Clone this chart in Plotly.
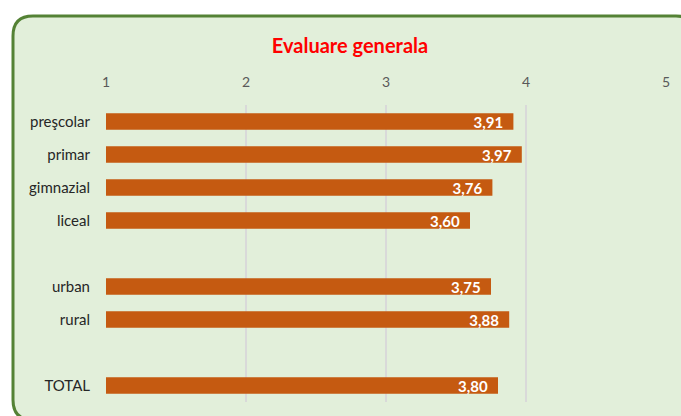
import plotly.graph_objects as go

categories = ["preşcolar", "primar", "gimnazial", "liceal", " ", "urban", "rural", "  ", "TOTAL"]
values = [3.91, 3.97, 3.76, 3.60, None, 3.75, 3.88, None, 3.80]
tick_vals = [1, 2, 3, 4, 5]
title_text = "Evaluare generala"

labels = ["" if v is None else f"{v:.2f}".replace(".", ",") + "\u00a0\u00a0" for v in values]

W, H = 681, 416
L, R, T, B = 106, 666, 105, 402

def px(x):
    return (x - L) / (R - L)

def py(y):
    return (B - y) / (B - T)

# rounded box in paper coords
bx0, by0, bx1, by1, r = 13, 16, 696, 420, 20
path = (
    f"M {px(bx0+r)},{py(by0)} L {px(bx1-r)},{py(by0)} "
    f"Q {px(bx1)},{py(by0)} {px(bx1)},{py(by0+r)} "
    f"L {px(bx1)},{py(by1-r)} Q {px(bx1)},{py(by1)} {px(bx1-r)},{py(by1)} "
    f"L {px(bx0+r)},{py(by1)} Q {px(bx0)},{py(by1)} {px(bx0)},{py(by1-r)} "
    f"L {px(bx0)},{py(by0+r)} Q {px(bx0)},{py(by0)} {px(bx0+r)},{py(by0)} Z"
)

fig = go.Figure(
    go.Bar(
        y=categories,
        x=values,
        orientation="h",
        marker=dict(color="#C55A11", line=dict(width=0)),
        text=labels,
        textposition="inside",
        insidetextanchor="end",
        constraintext="none",
        textfont=dict(color="white", size=15, family="Lato", weight="bold"),
        cliponaxis=True,
    )
)

fig.update_layout(
    width=W,
    height=H,
    margin=dict(l=L, r=W - R, t=T, b=H - B, autoexpand=False),
    paper_bgcolor="white",
    plot_bgcolor="rgba(0,0,0,0)",
    bargap=0.5,
    showlegend=False,
    font=dict(family="Lato", size=14, color="#404040"),
    title=dict(
        text=title_text,
        x=350 / W,
        xanchor="center",
        y=1 - 46 / H,
        yanchor="middle",
        font=dict(family="Lato", size=20, color="#FF0000", weight="bold"),
    ),
    shapes=[
        dict(
            type="path",
            path=path,
            xref="paper",
            yref="paper",
            fillcolor="#E2EFDA",
            line=dict(color="#548235", width=3),
            layer="below",
        )
    ],
    xaxis=dict(
        range=[1, 5],
        side="top",
        tickvals=tick_vals,
        ticktext=[str(t) for t in tick_vals],
        showgrid=True,
        gridcolor="#D9D9D9",
        gridwidth=1.5,
        zeroline=False,
        showline=False,
        automargin=False,
        tickfont=dict(color="#595959", size=14, family="Lato"),
        ticklabelstandoff=14,
        fixedrange=True,
    ),
    yaxis=dict(
        categoryorder="array",
        categoryarray=categories,
        autorange="reversed",
        showgrid=False,
        zeroline=False,
        showline=False,
        automargin=False,
        tickfont=dict(color="#262626", size=15, family="Lato"),
        ticklabelstandoff=15,
        fixedrange=True,
    ),
)

fig.write_html(
    "out.html",
    config={"displayModeBar": False},
    post_script="document.body.style.margin='0';document.body.style.overflow='hidden';",
)
